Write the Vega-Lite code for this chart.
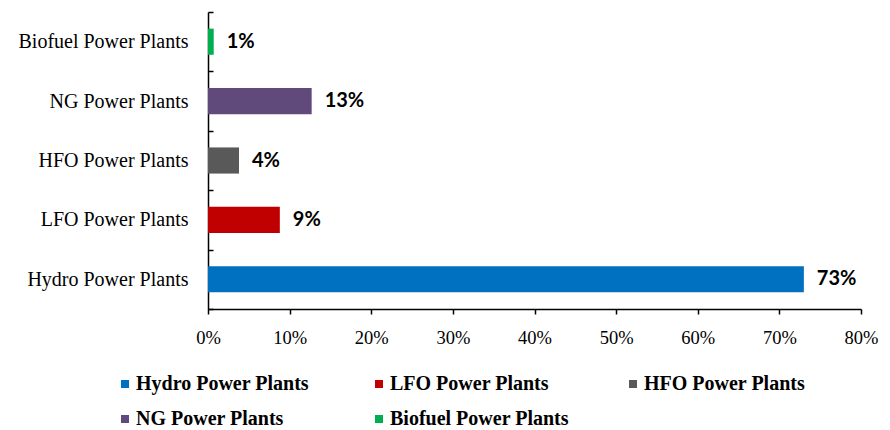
{
  "$schema": "https://vega.github.io/schema/vega-lite/v6.json",
  "autosize": "none",
  "width": 653,
  "height": 297,
  "padding": {"left": 208, "top": 12, "right": 29, "bottom": 121},
  "background": "white",
  "data": {
    "values": [
      {"plant": "Hydro Power Plants", "share": 0.73, "label": "73%"},
      {"plant": "LFO Power Plants", "share": 0.088, "label": "9%"},
      {"plant": "HFO Power Plants", "share": 0.038, "label": "4%"},
      {"plant": "NG Power Plants", "share": 0.127, "label": "13%"},
      {"plant": "Biofuel Power Plants", "share": 0.007, "label": "1%"}
    ]
  },
  "encoding": {
    "y": {
      "field": "plant",
      "type": "nominal",
      "sort": ["Biofuel Power Plants", "NG Power Plants", "HFO Power Plants", "LFO Power Plants", "Hydro Power Plants"],
      "scale": {"paddingInner": 0, "paddingOuter": 0},
      "axis": {
        "title": null,
        "tickBand": "extent",
        "tickSize": -5,
        "tickWidth": 1.5,
        "tickColor": "#000000",
        "domainColor": "#000000",
        "domainWidth": 1.5,
        "labelFont": "Liberation Serif",
        "labelFontSize": 20,
        "labelColor": "#000000",
        "labelPadding": 25,
        "labelLimit": 300,
        "grid": false
      }
    },
    "x": {
      "field": "share",
      "type": "quantitative",
      "scale": {"domain": [0, 0.8], "nice": false},
      "axis": {
        "title": null,
        "format": ".0%",
        "values": [0, 0.1, 0.2, 0.3, 0.4, 0.5, 0.6, 0.7, 0.8],
        "tickSize": 5,
        "tickWidth": 1.5,
        "tickColor": "#000000",
        "domainColor": "#000000",
        "domainWidth": 1.5,
        "labelFont": "Liberation Serif",
        "labelFontSize": 18.5,
        "labelColor": "#000000",
        "labelPadding": 14,
        "labelFlush": false,
        "grid": false
      }
    }
  },
  "layer": [
    {
      "mark": {"type": "bar", "height": {"band": 0.44}},
      "encoding": {
        "color": {
          "field": "plant",
          "type": "nominal",
          "sort": ["Hydro Power Plants", "LFO Power Plants", "HFO Power Plants", "NG Power Plants", "Biofuel Power Plants"],
          "scale": {
            "domain": ["Hydro Power Plants", "LFO Power Plants", "HFO Power Plants", "NG Power Plants", "Biofuel Power Plants"],
            "range": ["#0070C0", "#C00000", "#595959", "#604A7B", "#00B050"]
          },
          "legend": {
            "title": null,
            "orient": "none",
            "legendX": -93,
            "legendY": 362,
            "direction": "horizontal",
            "columns": 3,
            "gridAlign": "all",
            "columnPadding": 54,
            "rowPadding": 15,
            "symbolType": "square",
            "symbolSize": 64,
            "symbolStrokeWidth": 0,
            "symbolOffset": 0,
            "labelOffset": 1,
            "labelFont": "Liberation Serif",
            "labelFontWeight": "bold",
            "labelFontSize": 20,
            "labelColor": "#000000",
            "labelLimit": 400
          }
        }
      }
    },
    {
      "mark": {"type": "text", "align": "left", "baseline": "middle", "dx": 13, "font": "Lato", "fontWeight": "bold", "fontSize": 20, "color": "#000000"},
      "encoding": {"text": {"field": "label"}}
    }
  ],
  "config": {"view": {"stroke": null}}
}
